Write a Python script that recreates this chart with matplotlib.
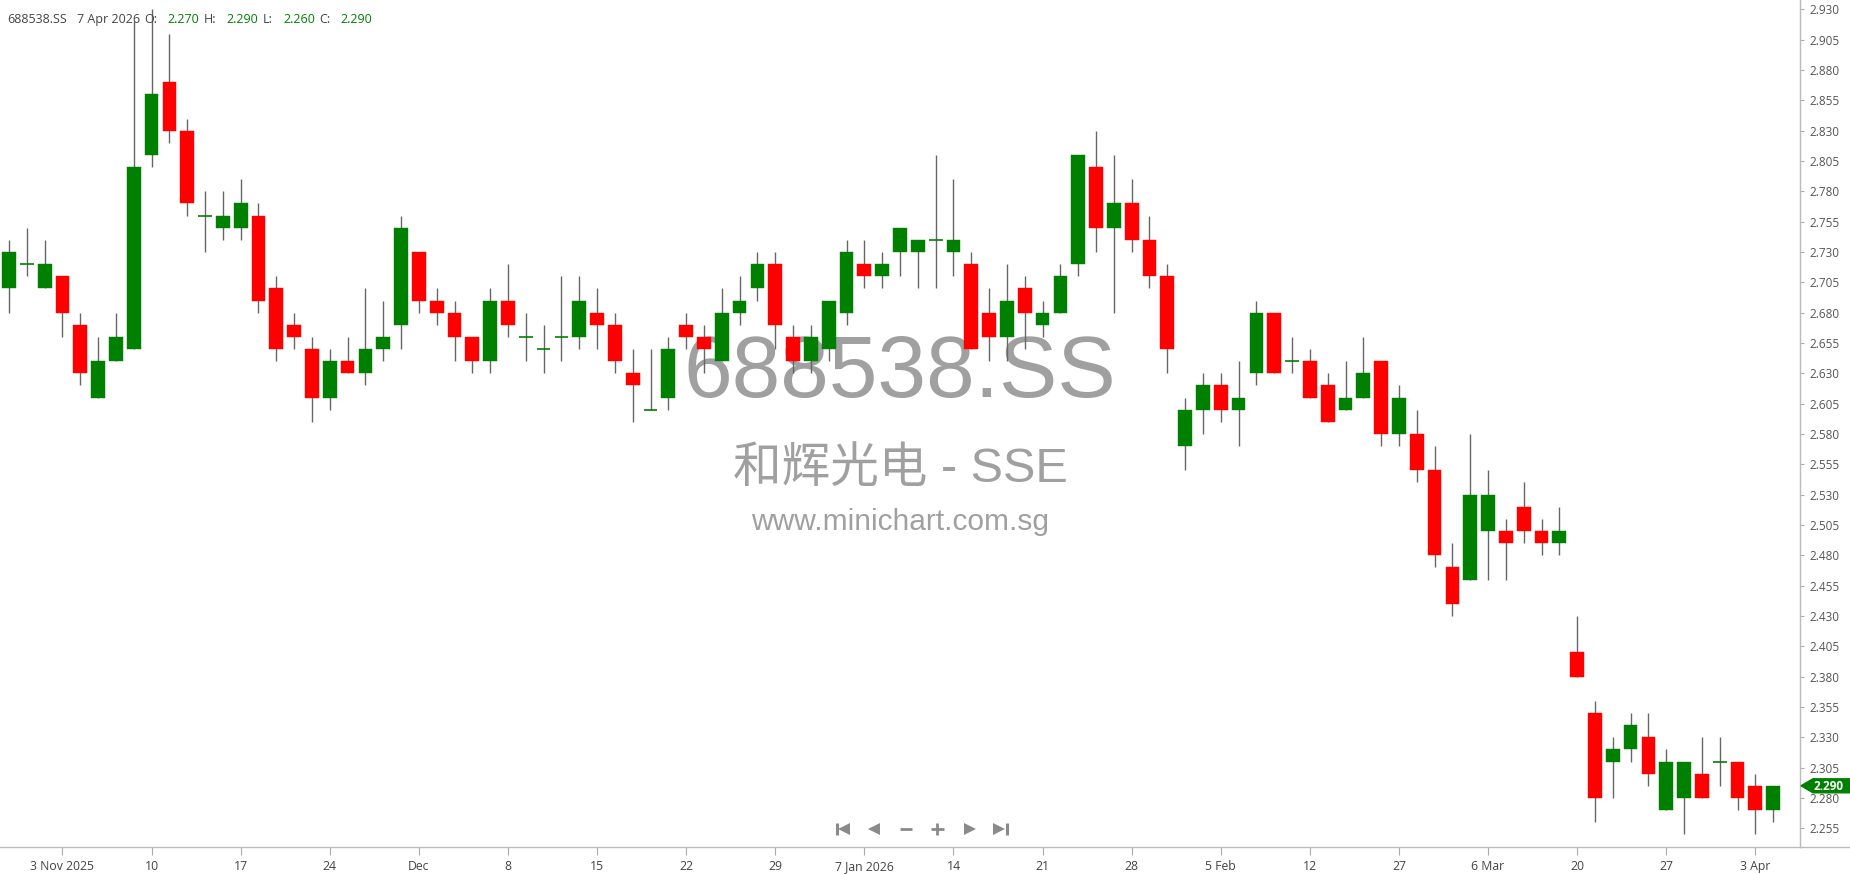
import numpy as np
import matplotlib
matplotlib.use("Agg")
import matplotlib.pyplot as plt
from matplotlib.patches import Polygon
from matplotlib.lines import Line2D

# ---------------- data ----------------
opens = [2.70, 2.72, 2.70, 2.71, 2.67, 2.61, 2.64, 2.65, 2.81, 2.87,
         2.83, 2.76, 2.75, 2.75, 2.76, 2.70, 2.67, 2.65, 2.61, 2.64,
         2.63, 2.65, 2.67, 2.73, 2.69, 2.68, 2.66, 2.64, 2.69, 2.66,
         2.65, 2.66, 2.66, 2.68, 2.67, 2.63, 2.60, 2.61, 2.67, 2.66,
         2.64, 2.68, 2.70, 2.72, 2.66, 2.64, 2.65, 2.68, 2.72, 2.71,
         2.73, 2.73, 2.74, 2.73, 2.72, 2.68, 2.66, 2.70, 2.67, 2.68,
         2.72, 2.80, 2.75, 2.77, 2.74, 2.71, 2.57, 2.60, 2.62, 2.60,
         2.63, 2.68, 2.64, 2.64, 2.62, 2.60, 2.61, 2.64, 2.58, 2.58,
         2.55, 2.47, 2.46, 2.50, 2.50, 2.52, 2.50, 2.49, 2.40, 2.35,
         2.31, 2.32, 2.33, 2.27, 2.28, 2.30, 2.31, 2.31, 2.29, 2.27]
highs = [2.74, 2.75, 2.74, 2.71, 2.68, 2.66, 2.68, 2.92, 2.93, 2.91,
         2.84, 2.78, 2.78, 2.79, 2.77, 2.71, 2.68, 2.66, 2.65, 2.66,
         2.70, 2.69, 2.76, 2.73, 2.70, 2.69, 2.66, 2.70, 2.72, 2.68,
         2.67, 2.71, 2.71, 2.70, 2.68, 2.65, 2.65, 2.66, 2.68, 2.67,
         2.70, 2.71, 2.73, 2.73, 2.67, 2.67, 2.69, 2.74, 2.74, 2.73,
         2.75, 2.74, 2.81, 2.79, 2.73, 2.70, 2.72, 2.71, 2.69, 2.72,
         2.81, 2.83, 2.81, 2.79, 2.76, 2.72, 2.61, 2.63, 2.63, 2.64,
         2.69, 2.68, 2.66, 2.65, 2.63, 2.64, 2.66, 2.64, 2.62, 2.60,
         2.57, 2.49, 2.58, 2.55, 2.51, 2.54, 2.51, 2.52, 2.43, 2.36,
         2.33, 2.35, 2.35, 2.32, 2.31, 2.33, 2.33, 2.31, 2.30, 2.29]
lows = [2.68, 2.71, 2.70, 2.66, 2.62, 2.61, 2.64, 2.65, 2.80, 2.82,
        2.76, 2.73, 2.74, 2.74, 2.68, 2.64, 2.65, 2.59, 2.60, 2.63,
        2.62, 2.64, 2.65, 2.68, 2.67, 2.64, 2.63, 2.63, 2.66, 2.64,
        2.63, 2.64, 2.65, 2.65, 2.63, 2.59, 2.60, 2.60, 2.65, 2.63,
        2.64, 2.67, 2.69, 2.65, 2.63, 2.63, 2.64, 2.67, 2.70, 2.70,
        2.71, 2.70, 2.70, 2.71, 2.65, 2.64, 2.64, 2.65, 2.66, 2.68,
        2.71, 2.73, 2.68, 2.73, 2.70, 2.63, 2.55, 2.58, 2.59, 2.57,
        2.62, 2.63, 2.63, 2.61, 2.59, 2.60, 2.61, 2.57, 2.57, 2.54,
        2.47, 2.43, 2.46, 2.46, 2.46, 2.49, 2.48, 2.48, 2.38, 2.26,
        2.28, 2.31, 2.29, 2.27, 2.25, 2.28, 2.29, 2.27, 2.25, 2.26]
closes = [2.73, 2.72, 2.72, 2.68, 2.63, 2.64, 2.66, 2.80, 2.86, 2.83,
          2.77, 2.76, 2.76, 2.77, 2.69, 2.65, 2.66, 2.61, 2.64, 2.63,
          2.65, 2.66, 2.75, 2.69, 2.68, 2.66, 2.64, 2.69, 2.67, 2.66,
          2.65, 2.66, 2.69, 2.67, 2.64, 2.62, 2.60, 2.65, 2.66, 2.65,
          2.68, 2.69, 2.72, 2.67, 2.64, 2.66, 2.69, 2.73, 2.71, 2.72,
          2.75, 2.74, 2.74, 2.74, 2.65, 2.66, 2.69, 2.68, 2.68, 2.71,
          2.81, 2.75, 2.77, 2.74, 2.71, 2.65, 2.60, 2.62, 2.60, 2.61,
          2.68, 2.63, 2.64, 2.61, 2.59, 2.61, 2.63, 2.58, 2.61, 2.55,
          2.48, 2.44, 2.53, 2.53, 2.49, 2.50, 2.49, 2.50, 2.38, 2.28,
          2.32, 2.34, 2.30, 2.31, 2.31, 2.28, 2.31, 2.28, 2.27, 2.29]

tick_bars = [3, 8, 13, 18, 23, 28, 33, 38, 43, 48,
             53, 58, 63, 68, 73, 78, 83, 88, 93, 98]
tick_labels = ["3 Nov 2025", "10", "17", "24", "Dec", "8", "15", "22", "29",
               "7 Jan 2026", "14", "21", "28", "5 Feb", "12", "27", "6 Mar",
               "20", "27", "3 Apr"]

symbol = "688538.SS"
name_line = "和辉光电 - SSE"
site = "www.minichart.com.sg"
last_date = "7 Apr 2026"

# ---------------- style ----------------
UP = "#008000"
DOWN = "#ff0000"
WICK = "#666666"
AXC = "#bbbbbb"
TXT = "#444444"

W, H = 1850, 874
fig = plt.figure(figsize=(W / 100, H / 100), dpi=100)
fig.patch.set_facecolor("white")

ax_bottom_px = 847.3
ax_right_px = 1800
ax = fig.add_axes([0, (H - ax_bottom_px) / H, ax_right_px / W, ax_bottom_px / H])
ax.set_facecolor("white")

o = np.array(opens)
h = np.array(highs)
l = np.array(lows)
c = np.array(closes)
x = np.arange(len(o))

body_w = 0.77
up = c > o
dn = c < o
dj = np.isclose(c, o)

ax.vlines(x, l, h, color=WICK, lw=1.0, zorder=3)
ax.bar(x[up], (c - o)[up], bottom=o[up], width=body_w, color=UP,
       edgecolor=UP, linewidth=0.3, zorder=4)
ax.bar(x[dn], (o - c)[dn], bottom=c[dn], width=body_w, color=DOWN,
       edgecolor=DOWN, linewidth=0.3, zorder=4)
ax.hlines(o[dj], x[dj] - body_w / 2, x[dj] + body_w / 2, color=UP, lw=1.2, zorder=4)

# scales
px_per_bar = 17.82
ax.set_xlim(-9 / px_per_bar, (ax_right_px - 9) / px_per_bar)
ax.set_ylim(2.2393, 2.9377)

# watermark (behind candles)
wm = "#a0a0a0"
ax.text(0.5, 1 - 396.7 / ax_bottom_px, symbol, transform=ax.transAxes,
        ha="center", va="baseline", fontsize=63, color=wm,
        family=["Liberation Sans", "DejaVu Sans"], zorder=1)
ax.text(0.5, 1 - 481.7 / ax_bottom_px, name_line, transform=ax.transAxes,
        ha="center", va="baseline", fontsize=35, color=wm,
        family=["Liberation Sans", "Noto Sans CJK SC"], zorder=1)
ax.text(0.5, 1 - 530 / ax_bottom_px, site, transform=ax.transAxes,
        ha="center", va="baseline", fontsize=21.5, color=wm,
        family=["Liberation Sans", "DejaVu Sans"], zorder=1)

# axes styling
for s in ["top", "left"]:
    ax.spines[s].set_visible(False)
ax.spines["right"].set_color(AXC)
ax.spines["bottom"].set_color(AXC)
ax.spines["right"].set_linewidth(1.0)
ax.spines["bottom"].set_linewidth(1.0)

ax.yaxis.tick_right()
yt = np.round(np.arange(2.255, 2.9301, 0.025), 3)
ax.set_yticks(yt)
ax.set_yticklabels([f"{v:.3f}" for v in yt])
ax.tick_params(axis="y", which="both", length=3, width=0.8, color="#aaaaaa",
               pad=4, labelsize=8.5, labelcolor="#555555")
ax.set_xticks(tick_bars)
ax.set_xticklabels(tick_labels)
ax.tick_params(axis="x", length=6, width=0.8, color="#aaaaaa", pad=3,
               labelsize=8.8, labelcolor=TXT)
for lab in ax.get_xticklabels() + ax.get_yticklabels():
    lab.set_family(["Open Sans", "DejaVu Sans"])

# overlay in pixel coordinates
ov = fig.add_axes([0, 0, 1, 1], zorder=10)
ov.set_xlim(0, W)
ov.set_ylim(H, 0)
ov.axis("off")
ov.patch.set_alpha(0)

# bottom line extension
ov.plot([ax_right_px, W], [ax_bottom_px, ax_bottom_px], color=AXC, lw=1.0)

# header
hdr_y = 23.3
hf = ["Open Sans", "DejaVu Sans"]
segments = [
    (7, symbol, TXT), (77, last_date, TXT),
    (144, "O:", TXT), (167, f"{opens[-1]:.3f}", UP),
    (204, "H:", TXT), (226, f"{highs[-1]:.3f}", UP),
    (263, "L:", TXT), (283, f"{lows[-1]:.3f}", UP),
    (319, "C:", TXT), (340, f"{closes[-1]:.3f}", UP),
]
for sx, s, col in segments:
    ov.text(sx, hdr_y, s, ha="left", va="baseline", fontsize=9, color=col, family=hf)

# last price tag on right axis
py = ax.transData.transform((0, closes[-1]))[1]
py = H - py
tag = Polygon([(1801, py), (1813, py - 7), (W, py - 7), (W, py + 7), (1813, py + 7)],
              closed=True, facecolor=UP, edgecolor=UP)
ov.add_patch(tag)
ov.text(1814, py + 0.5, f"{closes[-1]:.3f}", ha="left", va="center", fontsize=8.5,
        color="white", fontweight="bold", family=hf)

# navigation icons
ic = "#8a8a8a"
iy = 829
ov.plot([836.5, 836.5], [iy - 6, iy + 6], color=ic, lw=2.2, solid_capstyle="butt")
ov.plot([844], [iy], marker="<", ms=9, color=ic, mew=0)
ov.plot([874], [iy], marker="<", ms=9, color=ic, mew=0)
ov.plot([900, 912], [iy, iy], color=ic, lw=2.0, solid_capstyle="butt")
ov.plot([931, 943.5], [iy, iy], color=ic, lw=2.0, solid_capstyle="butt")
ov.plot([937.3, 937.3], [iy - 6, iy + 6], color=ic, lw=2.0, solid_capstyle="butt")
ov.plot([970], [iy], marker=">", ms=9, color=ic, mew=0)
ov.plot([999], [iy], marker=">", ms=9, color=ic, mew=0)
ov.plot([1006.5, 1006.5], [iy - 6, iy + 6], color=ic, lw=2.2, solid_capstyle="butt")

fig.savefig("out.png", dpi=100, facecolor="white")
